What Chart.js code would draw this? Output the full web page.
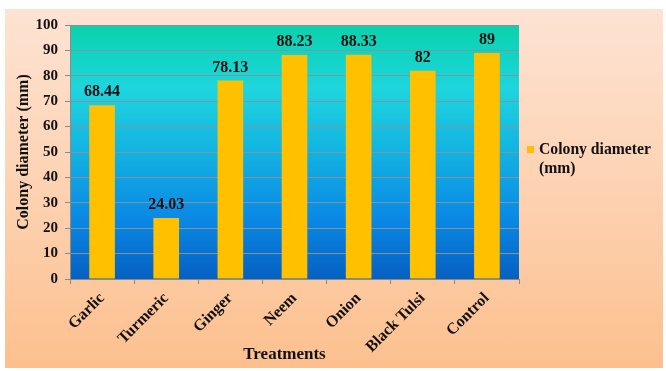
<!DOCTYPE html>
<html><head><meta charset="utf-8">
<script src="https://cdn.jsdelivr.net/npm/chart.js@4.4.0/dist/chart.umd.min.js"></script>
<style>
html,body{margin:0;padding:0;background:#fff;}
#bg{position:absolute;left:5px;top:9px;width:658px;height:359px;background:linear-gradient(to bottom,#fde3d3 0%,#fdd2b2 50%,#fcc08e 100%);}
#wrap{position:absolute;left:0;top:0;width:666px;height:371px;}
</style></head>
<body>
<div id="bg"></div>
<div id="wrap"><canvas id="c" width="666" height="371"></canvas></div>
<script>
const categories = ["Garlic","Turmeric","Ginger","Neem","Onion","Black Tulsi","Control"];
const colonyDiameter = [68.44,24.03,78.13,88.23,88.33,82,89];
const valueLabels = ["68.44","24.03","78.13","88.23","88.33","82","89"];
const seriesName = ["Colony diameter","(mm)"];
const xTitle = "Treatments";
const yTitle = "Colony diameter (mm)";

const FONT = "'Liberation Serif','Times New Roman',serif";

const bgPlugin = {
  id:'plotBg',
  beforeDraw(chart){
    const {ctx, chartArea:a} = chart;
    const g = ctx.createLinearGradient(0,a.top,0,a.bottom);
    g.addColorStop(0,'#0bd2aa');
    g.addColorStop(0.12,'#12d4c4');
    g.addColorStop(0.25,'#1ed5de');
    g.addColorStop(0.5,'#13b2e1');
    g.addColorStop(0.75,'#0a8be6');
    g.addColorStop(1,'#0660c2');
    ctx.save();
    ctx.fillStyle = g;
    ctx.fillRect(a.left,a.top,a.right-a.left,a.bottom-a.top);
    ctx.restore();
  }
};

const labelPlugin = {
  id:'valLabels',
  afterDatasetsDraw(chart){
    const {ctx, chartArea:a} = chart;
    const meta = chart.getDatasetMeta(0);
    ctx.save();
    ctx.font = "bold 16px " + FONT;
    ctx.fillStyle = '#111';
    ctx.textAlign = 'center';
    ctx.textBaseline = 'alphabetic';
    meta.data.forEach((el,i)=>{
      ctx.fillText(valueLabels[i], el.x, el.y - 9);
    });
    ctx.font = "bold 17px " + FONT;
    ctx.fillText(xTitle, (a.left + a.right)/2 - 10, 359);
    ctx.restore();
  }
};

const legendPlugin = {
  id:'sideLegend',
  afterDraw(chart){
    const {ctx, chartArea:a} = chart;
    ctx.save();
    ctx.fillStyle = '#ffc000';
    const x0 = a.right + 8;
    ctx.fillRect(x0, 146, 7, 7);
    ctx.font = "bold 15.7px " + FONT;
    ctx.fillStyle = '#111';
    ctx.textAlign = 'left';
    ctx.textBaseline = 'alphabetic';
    ctx.fillText(seriesName[0], x0 + 12, 154);
    ctx.fillText(seriesName[1], x0 + 12, 173);
    ctx.restore();
  }
};

new Chart(document.getElementById('c'), {
  type:'bar',
  data:{
    labels: categories,
    datasets:[{
      label: seriesName.join(' '),
      data: colonyDiameter,
      backgroundColor:'#ffc000',
      borderWidth:0,
      categoryPercentage:1.0,
      barPercentage:0.4
    }]
  },
  options:{
    responsive:false,
    animation:false,
    layout:{padding:{left:0,right:147,top:25,bottom:0}},
    plugins:{legend:{display:false},tooltip:{enabled:false}},
    scales:{
      y:{
        min:0,max:100,
        ticks:{stepSize:10,color:'#111',font:{family:FONT,size:15,weight:'bold'},padding:7},
        grid:{color:'#7f96a2',lineWidth:1,tickLength:5,tickColor:'#8a8a8a'},
        border:{color:'#8a8a8a'},
        title:{display:true,text:yTitle,color:'#111',font:{family:FONT,size:16,weight:'bold'},padding:{top:14,bottom:0}},
        afterFit(s){ s.width = 70; }
      },
      x:{
        ticks:{color:'#111',font:{family:FONT,size:16,weight:'bold'},maxRotation:45,minRotation:45,padding:5},
        grid:{drawOnChartArea:false,tickLength:5,color:'#8a8a8a',offset:true},
        border:{color:'#8a8a8a'},
        afterFit(s){ s.height = 92; }
      }
    }
  },
  plugins:[bgPlugin,labelPlugin,legendPlugin]
});
</script>
</body></html>
